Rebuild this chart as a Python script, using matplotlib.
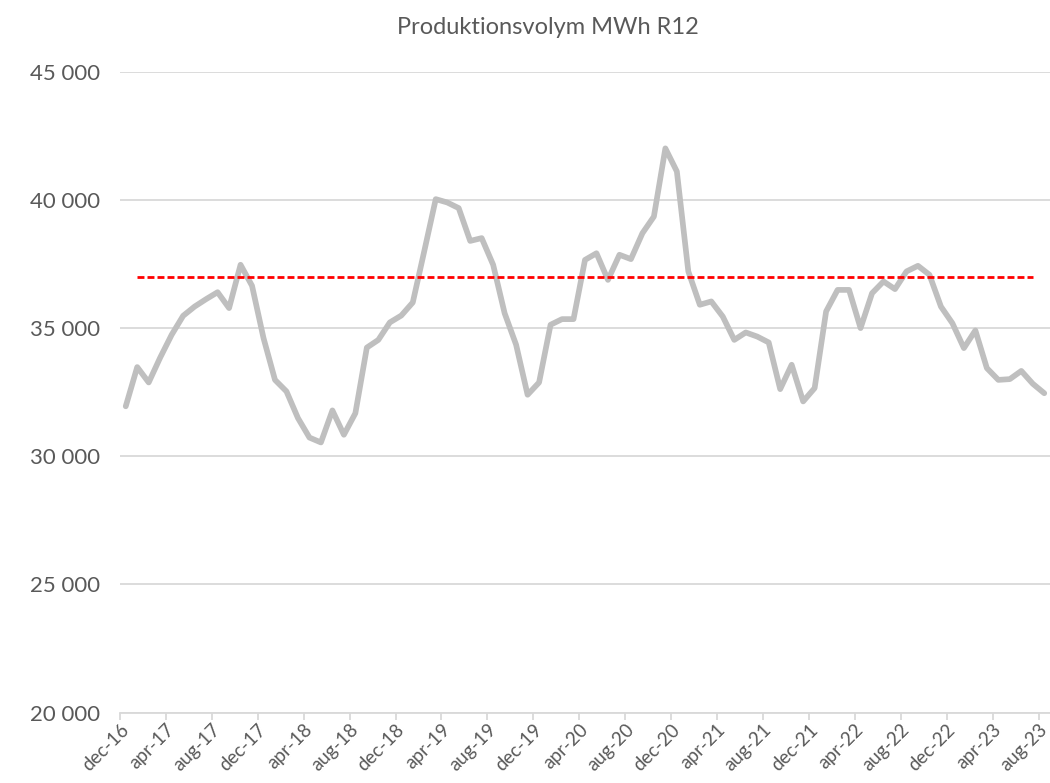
import numpy as np
import matplotlib
matplotlib.use("Agg")
import matplotlib.pyplot as plt
from matplotlib.ticker import FuncFormatter

# monthly R12 production volume, dec-16 .. aug-23
volym = [31950, 33480, 32880, 33850, 34740, 35480, 35840, 36130, 36400, 35780,
         37470, 36650, 34610, 32980, 32530, 31490, 30730, 30540, 31790, 30840,
         31680, 34240, 34540, 35220, 35490, 36000, 38000, 40030, 39900, 39680,
         38400, 38510, 37470, 35580, 34350, 32400, 32880, 35130, 35350, 35350,
         37660, 37920, 36880, 37860, 37690, 38700, 39350, 42010, 41110, 37210,
         35910, 36040, 35450, 34540, 34830, 34670, 34440, 32620, 33570, 32140,
         32660, 35650, 36490, 36490, 35000, 36360, 36820, 36520, 37210, 37430,
         37080, 35840, 35190, 34220, 34910, 33440, 32980, 33010, 33330, 32830,
         32460]
tick_labels = ["dec-16", "apr-17", "aug-17", "dec-17", "apr-18", "aug-18", "dec-18",
               "apr-19", "aug-19", "dec-19", "apr-20", "aug-20", "dec-20", "apr-21",
               "aug-21", "dec-21", "apr-22", "aug-22", "dec-22", "apr-23", "aug-23"]
mal = 37000          # target level
mal_fran, mal_till = 1, 79   # months the target line covers

plt.rcParams['font.family'] = ['Lato', 'DejaVu Sans']
grey_txt = '#595959'

fig = plt.figure(figsize=(10.5, 7.83), dpi=100)
ax = fig.add_axes([120/1050, 70.3/783, 930/1050, 641/783])

n = len(volym)
x = np.arange(n) + 0.5
ax.plot(x, volym, color='#bfbfbf', lw=4.1, solid_joinstyle='round', solid_capstyle='round', zorder=3)

malx = x[mal_fran:mal_till + 1]
ax.plot(malx, [mal] * len(malx), color='#ff0000', lw=2.0, dashes=(2.5, 1.1), zorder=4)

ax.set_xlim(0, n)
ax.set_ylim(20000, 45000)
ax.set_yticks(range(20000, 45001, 5000))
ax.yaxis.set_major_formatter(FuncFormatter(lambda v, p: f"{int(v):,}".replace(",", " ")))
ax.grid(axis='y', color='#d9d9d9', lw=1.3)
ax.set_axisbelow(True)

ax.set_xticks(np.arange(0, n, 4))
ax.set_xticklabels(tick_labels, rotation=45, ha='right', va='top', rotation_mode='anchor')

for s in ['top', 'right', 'left']:
    ax.spines[s].set_visible(False)
ax.spines['bottom'].set_color('#d9d9d9')
ax.spines['bottom'].set_linewidth(1.3)

ax.tick_params(axis='y', length=0, pad=14, labelsize=16, labelcolor=grey_txt)
ax.tick_params(axis='x', length=5, width=1.3, color='#d9d9d9', pad=1, labelsize=13.5, labelcolor=grey_txt)

fig.text(548/1050, 1 - 27/783, "Produktionsvolym MWh R12", ha='center', va='center',
         fontsize=17, color=grey_txt)

fig.savefig("out.png", dpi=100)
